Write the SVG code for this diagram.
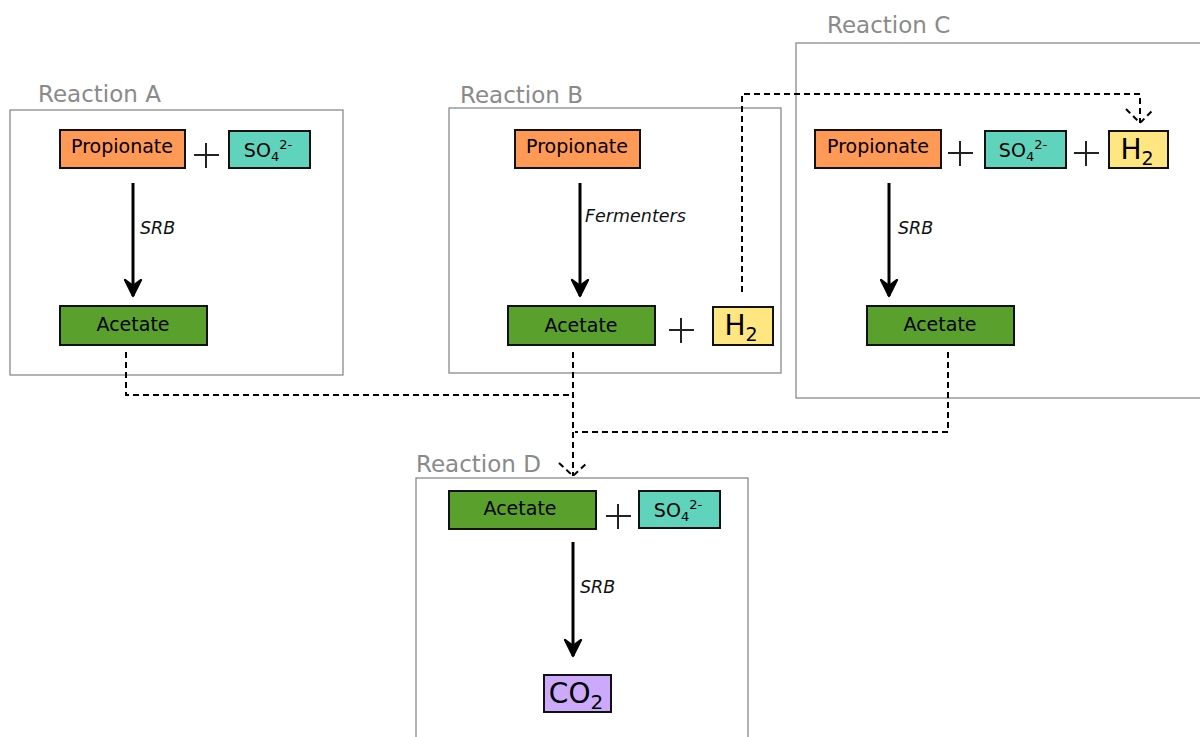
<svg xmlns="http://www.w3.org/2000/svg" width="1200" height="737" viewBox="0 0 1200 737">
<style>
.frame{fill:#fff;stroke:#808080;stroke-width:1.2}
.title{font-family:"DejaVu Sans",Verdana,sans-serif;font-size:23px;fill:#8a8a8a}
.box{stroke:#111;stroke-width:2}
.prop{fill:#ff9955}
.so4{fill:#5fd3bc}
.ace{fill:#5aa02c}
.h2{fill:#ffe680}
.co2{fill:#cca9fa}
.t{font-family:"DejaVu Sans",Verdana,sans-serif;font-size:19px;fill:#000;text-anchor:middle}
.big{font-size:28px}
.lab{font-family:"DejaVu Sans",Verdana,sans-serif;font-size:17.5px;font-style:italic;fill:#111}
.plus{stroke:#222;stroke-width:2;fill:none}
.arr{stroke:#000;stroke-width:3;fill:none}
.dash{stroke:#000;stroke-width:2;fill:none;stroke-dasharray:6,4}
</style>
<defs>
<marker id="head" markerUnits="userSpaceOnUse" markerWidth="26" markerHeight="24" refX="20" refY="12" orient="auto" viewBox="0 0 26 24">
<path d="M20,12 L4,4 L10,12 L4,20 Z" fill="#000" stroke="#000" stroke-width="2.2" stroke-linejoin="round"/>
</marker>
</defs>

<g id="reactionA">
<text class="title" x="38" y="102">Reaction A</text>
<rect class="frame" x="10" y="110" width="333" height="265"/>
</g>
<g id="reactionB">
<text class="title" x="460" y="103">Reaction B</text>
<rect class="frame" x="449" y="108" width="332" height="265"/>
</g>
<g id="reactionC">
<text class="title" x="827" y="33">Reaction C</text>
<rect class="frame" x="796" y="43" width="410" height="355"/>
</g>
<g id="reactionD">
<text class="title" x="416" y="472">Reaction D</text>
<rect class="frame" x="416" y="478" width="332" height="265"/>
</g>

<g id="connectors">
<line class="arr" x1="133" y1="183" x2="133" y2="296" marker-end="url(#head)"/>
<line class="arr" x1="580" y1="183" x2="580" y2="296" marker-end="url(#head)"/>
<line class="arr" x1="889" y1="183" x2="889" y2="296" marker-end="url(#head)"/>
<line class="arr" x1="573" y1="542" x2="573" y2="656" marker-end="url(#head)"/>
<path class="dash" d="M742,292 V94 H1140 V123"/>
<path class="dash" d="M1126,109 L1140,123 L1154,109"/>
<path class="dash" d="M126,352 V395 H573"/>
<path class="dash" d="M948,352 V432 H575"/>
<path class="dash" d="M573,352 V476"/>
<path class="dash" d="M559,463 L573,476 L588,462"/>
<text class="lab" x="140" y="234">SRB</text>
<text class="lab" x="585" y="222">Fermenters</text>
<text class="lab" x="898" y="234">SRB</text>
<text class="lab" x="580" y="593">SRB</text>
</g>

<g id="propionateA">
<rect class="box prop" x="60" y="130" width="125" height="38"/>
<text class="t" x="122" y="153">Propionate</text>
</g>
<path class="plus" d="M194,155 H219 M206,143 V168"/>
<g id="so4A">
<rect class="box so4" x="229" y="131" width="81" height="37"/>
<text class="t" x="268" y="157">SO<tspan font-size="13" dy="4">4</tspan><tspan font-size="13" dy="-12">2-</tspan></text>
</g>
<g id="acetateA">
<rect class="box ace" x="60" y="306" width="147" height="39"/>
<text class="t" x="133" y="331">Acetate</text>
</g>

<g id="propionateB">
<rect class="box prop" x="515" y="130" width="125" height="38"/>
<text class="t" x="577" y="153">Propionate</text>
</g>
<g id="acetateB">
<rect class="box ace" x="508" y="306" width="147" height="39"/>
<text class="t" x="581" y="332">Acetate</text>
</g>
<path class="plus" d="M669,330 H694 M681,318 V343"/>
<g id="h2B">
<rect class="box h2" x="713" y="307" width="60" height="38"/>
<text class="t big" x="741" y="335">H<tspan font-size="19" dy="6">2</tspan></text>
</g>

<g id="propionateC">
<rect class="box prop" x="815" y="130" width="126" height="38"/>
<text class="t" x="878" y="153">Propionate</text>
</g>
<path class="plus" d="M948,153 H973 M960,141 V166"/>
<g id="so4C">
<rect class="box so4" x="985" y="131" width="81" height="37"/>
<text class="t" x="1023" y="157">SO<tspan font-size="13" dy="4">4</tspan><tspan font-size="13" dy="-12">2-</tspan></text>
</g>
<path class="plus" d="M1074,153 H1099 M1086,141 V166"/>
<g id="h2C">
<rect class="box h2" x="1109" y="131" width="59" height="37"/>
<text class="t big" x="1137" y="159">H<tspan font-size="19" dy="6">2</tspan></text>
</g>
<g id="acetateC">
<rect class="box ace" x="867" y="306" width="147" height="39"/>
<text class="t" x="940" y="331">Acetate</text>
</g>

<g id="acetateD">
<rect class="box ace" x="449" y="491" width="147" height="38"/>
<text class="t" x="520" y="515">Acetate</text>
</g>
<path class="plus" d="M606,516 H631 M618,504 V529"/>
<g id="so4D">
<rect class="box so4" x="639" y="491" width="81" height="37"/>
<text class="t" x="678" y="517">SO<tspan font-size="13" dy="4">4</tspan><tspan font-size="13" dy="-12">2-</tspan></text>
</g>
<g id="co2D">
<rect class="box co2" x="544" y="675" width="67" height="37"/>
<text class="t big" x="576" y="703" font-size="30">CO<tspan font-size="20" dy="6">2</tspan></text>
</g>
</svg>
